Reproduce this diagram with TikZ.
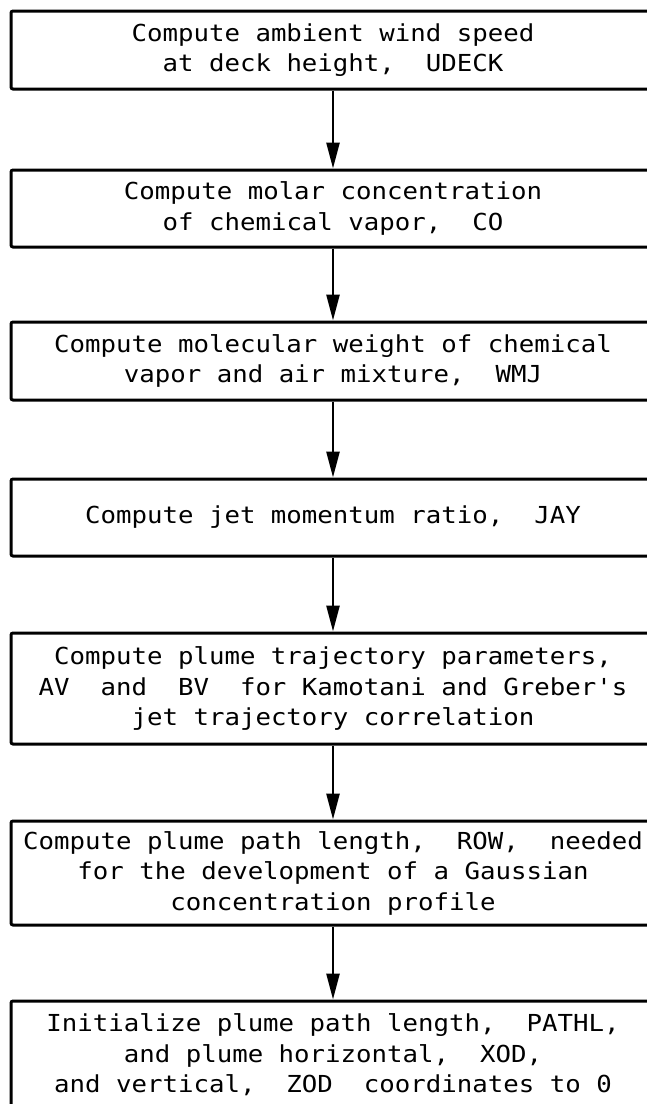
\documentclass[tikz,border=0pt]{standalone}
\usepackage{fontspec}
\setmonofont[FakeStretch=1.1]{DejaVu Sans Mono}
\usepackage{tikz}
\usetikzlibrary{arrows.meta, positioning}

\begin{document}
\begin{tikzpicture}[x=1pt, y=1pt,
  stepbox/.style={draw, line width=3pt, rounded corners=2pt, minimum width=644pt, minimum height=78pt, align=center, inner sep=0pt, font=\ttfamily\fontsize{23.4}{30.5}\selectfont},
  flowarrow/.style={line width=2.6pt, -{Triangle[length=26pt, width=13pt]}}]
  \path[use as bounding box] (0,0) rectangle (647,-1104);
  \clip (0,0) rectangle (647,-1104);

  % Box 1: wind speed
  \node[stepbox] (udeck) at (333,-50) {Compute ambient wind speed\\at deck height,~~UDECK};

  % Box 2: molar concentration
  \node[stepbox, minimum height=77pt] (conc) at (333,-208.5) {Compute molar concentration\\of chemical vapor,~~CO};

  % Box 3: molecular weight
  \node[stepbox] (wmj) at (333,-361) {Compute molecular weight of chemical\\vapor and air mixture,~~WMJ};

  % Box 4: momentum ratio
  \node[stepbox, minimum height=77pt] (jay) at (333,-517.5) {Compute jet momentum ratio,~~JAY};

  % Box 5: trajectory parameters
  \node[stepbox, minimum height=111pt] (traj) at (333,-688.5) {Compute plume trajectory parameters,\\AV~~and~~BV~~for Kamotani and Greber's\\jet trajectory correlation};

  % Box 6: path length
  \node[stepbox, minimum height=104pt] (row) at (333,-873) {Compute plume path length,~~ROW,~~needed\\for the development of a Gaussian\\concentration profile};

  % Box 7: initialize
  \node[stepbox, minimum height=108pt] (init) at (333,-1055) {Initialize plume path length,~~PATHL,\\and plume horizontal,~~XOD,\\and vertical,~~ZOD~~coordinates to 0};

  % Arrows
  \draw[flowarrow] (udeck) -- (conc);
  \draw[flowarrow] (conc) -- (wmj);
  \draw[flowarrow] (wmj) -- (jay);
  \draw[flowarrow] (jay) -- (traj);
  \draw[flowarrow] (traj) -- (row);
  \draw[flowarrow] (row) -- (init);
\end{tikzpicture}
\end{document}
